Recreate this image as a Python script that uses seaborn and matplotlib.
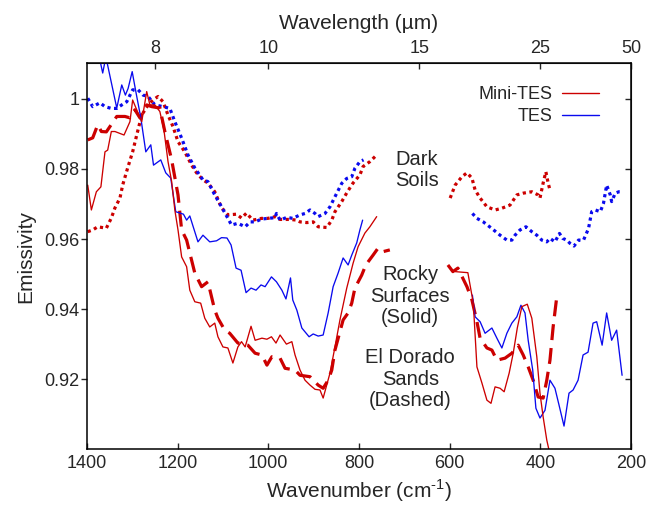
import matplotlib
matplotlib.use('Agg')
import matplotlib.pyplot as plt
from matplotlib.lines import Line2D
import pandas as pd
import seaborn as sns

sns.set_style('ticks')
plt.rcParams['font.family'] = ['Liberation Sans', 'DejaVu Sans']
plt.rcParams['axes.unicode_minus'] = False
plt.rcParams['mathtext.fontset'] = 'custom'
plt.rcParams['mathtext.rm'] = 'Liberation Sans'

RED = '#cc0000'
BLUE = '#0a0aee'

# ---- Rocky surfaces (solid) -------------------------------------------------
tes_rock_wn_1 = [1400, 1385, 1371, 1365, 1358, 1334, 1323, 1315, 1309, 1300, 1292, 1281,
                 1270, 1259, 1253, 1237, 1226, 1215, 1204, 1187, 1180, 1173, 1155, 1144,
                 1129, 1114, 1103, 1091, 1082, 1071, 1060, 1049, 1038, 1027, 1016, 1007,
                 993, 982, 970, 961, 951, 946, 937, 926, 910, 901, 890, 879, 868, 857,
                 846, 835, 824, 816, 805, 798, 792]
tes_rock_em_1 = [1.013, 1.016, 1.011, 1.0074, 1.012, 0.9974, 1.004, 1.0011, 1.003, 1.0078,
                 1.0021, 0.9946, 0.9849, 0.9869, 0.9811, 0.9826, 0.9789, 0.9774, 0.9678,
                 0.9671, 0.9654, 0.9666, 0.9592, 0.9611, 0.9592, 0.9595, 0.9604, 0.9603,
                 0.9583, 0.9517, 0.9511, 0.9447, 0.946, 0.9454, 0.9469, 0.9464, 0.9492,
                 0.9478, 0.9454, 0.9429, 0.9489, 0.9426, 0.9397, 0.9346, 0.9321, 0.9329,
                 0.9323, 0.9326, 0.9389, 0.9464, 0.9503, 0.9546, 0.9526, 0.9554, 0.9589,
                 0.9626, 0.9654]
tes_rock_wn_2 = [550, 544, 533, 522, 507, 496, 485, 474, 463, 452, 443, 434, 427, 417, 410,
                 401, 390, 379, 368, 359, 348, 337, 328, 317, 306, 295, 284, 276, 264, 254,
                 243, 232, 220]
tes_rock_em_2 = [0.944, 0.9378, 0.9364, 0.9331, 0.9346, 0.9317, 0.9289, 0.9331, 0.936,
                 0.9378, 0.9411, 0.9389, 0.9311, 0.9226, 0.9117, 0.9089, 0.9111, 0.9197,
                 0.9174, 0.9126, 0.9066, 0.916, 0.9169, 0.9197, 0.9269, 0.9277, 0.936,
                 0.9364, 0.9297, 0.9389, 0.9311, 0.934, 0.9211]

mini_rock_wn_1 = [1398, 1390, 1379, 1369, 1360, 1354, 1346, 1338, 1318, 1305, 1299, 1290,
                  1279, 1268, 1261, 1250, 1239, 1230, 1221, 1213, 1206, 1199, 1191, 1180,
                  1173, 1162, 1149, 1140, 1129, 1118, 1111, 1100, 1089, 1078, 1067, 1059,
                  1051, 1038, 1029, 1014, 1003, 993, 983, 974, 960, 948, 941, 930, 919,
                  908, 897, 886, 879, 864, 853, 842, 827, 813, 802, 787, 776, 761]
mini_rock_em_1 = [0.9754, 0.9683, 0.9735, 0.9749, 0.9849, 0.9854, 0.9907, 0.9907, 0.9897,
                  0.9935, 0.9997, 0.9969, 0.9935, 1.0021, 0.9983, 0.9983, 0.9964, 0.9911,
                  0.9821, 0.9764, 0.9683, 0.9626, 0.9549, 0.9521, 0.9454, 0.9421, 0.9417,
                  0.9374, 0.9349, 0.936, 0.9321, 0.9292, 0.9289, 0.9246, 0.9292, 0.9307,
                  0.9292, 0.9351, 0.9311, 0.9317, 0.9314, 0.9321, 0.9303, 0.9326, 0.93,
                  0.9307, 0.9269, 0.9226, 0.9197, 0.9183, 0.9171, 0.9169, 0.9146, 0.9217,
                  0.9292, 0.9369, 0.946, 0.9531, 0.9578, 0.9617, 0.9635, 0.9664]
mini_rock_wn_2 = [588, 560, 548, 540, 529, 518, 509, 500, 489, 480, 469, 460, 451, 441, 429,
                  419, 408, 401, 394, 386, 381, 376]
mini_rock_em_2 = [0.9507, 0.9504, 0.9417, 0.9235, 0.9189, 0.914, 0.9131, 0.9178, 0.9174,
                  0.9164, 0.9217, 0.9274, 0.9346, 0.9407, 0.9414, 0.9374, 0.9264, 0.916,
                  0.9092, 0.9026, 0.8997, 0.897]

# ---- El Dorado sands (dashed) -----------------------------------------------
mini_sand_wn_1 = [1398, 1387, 1376, 1368, 1357, 1334, 1316, 1305, 1294, 1283, 1268, 1257,
                  1239, 1228, 1213, 1199, 1191, 1180, 1162, 1147, 1133, 1118, 1111, 1096,
                  1085, 1067, 1045, 1029, 1014, 1003, 992, 974, 963, 941, 930, 908, 890,
                  879, 868, 860, 853, 835, 824, 816, 809, 794, 785, 769, 758, 747, 732]
mini_sand_em_1 = [0.9883, 0.9889, 0.9926, 0.9907, 0.9906, 0.995, 0.995, 0.9946, 0.9969,
                  0.9946, 0.9983, 0.9978, 0.9974, 0.9907, 0.9826, 0.9726, 0.9626, 0.9597,
                  0.9503, 0.9464, 0.9478, 0.9397, 0.9374, 0.934, 0.9331, 0.9303, 0.9297,
                  0.9274, 0.9269, 0.924, 0.9264, 0.926, 0.9231, 0.9226, 0.9211, 0.9207,
                  0.9183, 0.9174, 0.9197, 0.9226, 0.9283, 0.9369, 0.9389, 0.9417, 0.946,
                  0.9497, 0.9526, 0.9554, 0.9574, 0.9564, 0.9569]
mini_sand_wn_2 = [604, 593, 582, 562, 551, 540, 533, 518, 507, 496, 478, 463, 449, 438, 427,
                  416, 405, 394, 386, 379, 372, 364]
mini_sand_em_2 = [0.9526, 0.9507, 0.9517, 0.9464, 0.9426, 0.9364, 0.9317, 0.9289, 0.9283,
                  0.9254, 0.926, 0.9274, 0.9297, 0.9269, 0.9235, 0.9197, 0.9149, 0.9146,
                  0.9197, 0.9254, 0.9349, 0.9435]

# ---- Dark soils (dotted) ----------------------------------------------------
mini_soil_wn_1 = [1398, 1387, 1376, 1357, 1346, 1338, 1327, 1321, 1310, 1299, 1290, 1279,
                  1265, 1254, 1243, 1232, 1221, 1210, 1199, 1184, 1169, 1158, 1144, 1133,
                  1118, 1103, 1089, 1070, 1059, 1048, 1034, 1015, 1001, 985, 974, 952, 937,
                  930, 915, 901, 890, 871, 860, 853, 838, 826, 813, 798, 791, 776, 761]
mini_soil_em_1 = [0.9621, 0.9626, 0.9635, 0.9631, 0.966, 0.9689, 0.9717, 0.9754, 0.9803,
                  0.9849, 0.9897, 0.9954, 0.9983, 0.9997, 1.0007, 0.9992, 0.9954, 0.9921,
                  0.9878, 0.9849, 0.9811, 0.9789, 0.9769, 0.976, 0.9735, 0.9689, 0.9669,
                  0.9671, 0.966, 0.9674, 0.9654, 0.9659, 0.9659, 0.9664, 0.9656, 0.9656,
                  0.9654, 0.9649, 0.9647, 0.9649, 0.9635, 0.9633, 0.9654, 0.9678, 0.9707,
                  0.9734, 0.976, 0.9783, 0.9807, 0.9821, 0.984]
mini_soil_wn_2 = [599, 588, 573, 562, 551, 544, 533, 518, 500, 485, 467, 452, 438, 419, 405,
                  401, 394, 388, 383, 379]
mini_soil_em_2 = [0.9717, 0.9754, 0.9778, 0.9789, 0.9774, 0.974, 0.9717, 0.9692, 0.9683,
                  0.9688, 0.9697, 0.9726, 0.9731, 0.9735, 0.9726, 0.9717, 0.976, 0.9792,
                  0.976, 0.974]

tes_soil_wn_1 = [1398, 1387, 1371, 1360, 1346, 1334, 1323, 1312, 1299, 1287, 1276, 1265,
                 1250, 1232, 1217, 1206, 1191, 1177, 1162, 1144, 1133, 1118, 1103, 1089,
                 1081, 1067, 1051, 1040, 1029, 1015, 1001, 985, 982, 974, 959, 946, 930,
                 919, 908, 897, 890, 875, 864, 849, 838, 827, 816, 809, 798, 790]
tes_soil_em_1 = [1.0002, 0.9978, 0.9989, 0.9978, 0.9973, 0.9973, 0.9983, 0.9992, 1.0026,
                 1.0026, 1.0011, 1.0007, 0.9983, 0.9978, 0.9973, 0.9935, 0.9888, 0.984,
                 0.9803, 0.9769, 0.9764, 0.9726, 0.9692, 0.9659, 0.964, 0.9645, 0.9635,
                 0.9649, 0.9649, 0.9657, 0.9659, 0.9661, 0.9673, 0.9654, 0.9662, 0.9659,
                 0.9669, 0.9673, 0.9683, 0.9673, 0.9664, 0.9673, 0.9692, 0.9731, 0.9759,
                 0.9773, 0.9778, 0.9802, 0.9821, 0.9826]
tes_soil_wn_2 = [550, 540, 526, 507, 489, 474, 463, 456, 445, 432, 419, 408, 397, 386, 379,
                 368, 358, 351, 342, 335, 326, 316, 305, 294, 287, 279, 268, 261, 254, 246,
                 243, 235, 227, 220]
tes_soil_em_2 = [0.9673, 0.9659, 0.9649, 0.963, 0.9611, 0.9597, 0.9597, 0.9611, 0.9626,
                 0.9635, 0.9621, 0.9611, 0.9597, 0.9592, 0.9602, 0.9592, 0.9616, 0.9602,
                 0.9597, 0.9588, 0.958, 0.9597, 0.9597, 0.963, 0.9678, 0.9683, 0.9678,
                 0.9702, 0.9754, 0.9726, 0.9707, 0.9731, 0.9735, 0.9735]

wavelength_ticks = [8, 10, 15, 25, 50]
wavenumber_ticks = [1400, 1200, 1000, 800, 600, 400, 200]
emissivity_ticks = [0.92, 0.94, 0.96, 0.98, 1.0]
emissivity_labels = ['0.92', '0.94', '0.96', '0.98', '1']


def segments(*pairs):
    frames = []
    for i, (wn, em) in enumerate(pairs):
        frames.append(pd.DataFrame({'wn': wn, 'em': em, 'seg': i}))
    return pd.concat(frames, ignore_index=True)


fig = plt.figure(figsize=(6.48, 5.07), dpi=100)
ax = fig.add_axes([0.134, 0.114, 0.840, 0.762])

series = [
    (segments((mini_soil_wn_1, mini_soil_em_1), (mini_soil_wn_2, mini_soil_em_2)), RED, 2.3, (0, (1, 1.1))),
    (segments((tes_soil_wn_1, tes_soil_em_1), (tes_soil_wn_2, tes_soil_em_2)), BLUE, 2.3, (0, (1, 1.1))),
    (segments((mini_sand_wn_1, mini_sand_em_1), (mini_sand_wn_2, mini_sand_em_2)), RED, 2.3, (0, (5, 2.5))),
    (segments((tes_rock_wn_1, tes_rock_em_1), (tes_rock_wn_2, tes_rock_em_2)), BLUE, 0.95, '-'),
    (segments((mini_rock_wn_1, mini_rock_em_1), (mini_rock_wn_2, mini_rock_em_2)), RED, 0.95, '-'),
]
for df, col, lw, ls in series:
    sns.lineplot(data=df, x='wn', y='em', units='seg', estimator=None, sort=False,
                 color=col, linewidth=lw, linestyle=ls, ax=ax)

ax.set_xlim(1400, 200)
ax.set_ylim(0.90, 1.0103)
ax.set_xticks(wavenumber_ticks)
ax.set_yticks(emissivity_ticks, emissivity_labels)
ax.set_xlabel('Wavenumber (cm$^{\\text{-}1}$)', fontsize=15, labelpad=4)
ax.set_ylabel('Emissivity', fontsize=15, labelpad=6)

for s in ax.spines.values():
    s.set_linewidth(1.1)
    s.set_color('black')
ax.tick_params(axis='x', direction='in', length=4.5, width=1, labelsize=13, pad=4)
ax.tick_params(axis='y', direction='out', length=4.5, width=1, labelsize=13, pad=1)

top = ax.secondary_xaxis('top', functions=(lambda w: 1e4 / w, lambda l: 1e4 / l))
top.set_xticks(wavelength_ticks, [str(t) for t in wavelength_ticks])
top.tick_params(direction='in', length=4.5, width=1, labelsize=13, pad=4)
top.set_xlabel('Wavelength (\u00b5m)', fontsize=15, labelpad=8)

right = ax.secondary_yaxis('right')
right.set_yticks(emissivity_ticks)
right.tick_params(direction='in', length=4.5, width=1, labelright=False)

txt = dict(ha='center', va='center', fontsize=14.5, multialignment='center', linespacing=1.15)
ax.text(672, 0.9797, 'Dark\nSoils', **txt)
ax.text(687, 0.9437, 'Rocky\nSurfaces\n(Solid)', **txt)
ax.text(687, 0.9200, 'El Dorado\nSands\n(Dashed)', **txt)

handles = [Line2D([], [], color=RED, lw=1.0), Line2D([], [], color=BLUE, lw=1.0)]
ax.legend(handles, ['Mini-TES', 'TES'], loc='upper right', bbox_to_anchor=(0.971, 0.982),
          frameon=False, markerfirst=False, fontsize=13, handlelength=2.05,
          handletextpad=0.55, labelspacing=0.28, borderpad=0.4)

fig.savefig('out.png', dpi=100)
